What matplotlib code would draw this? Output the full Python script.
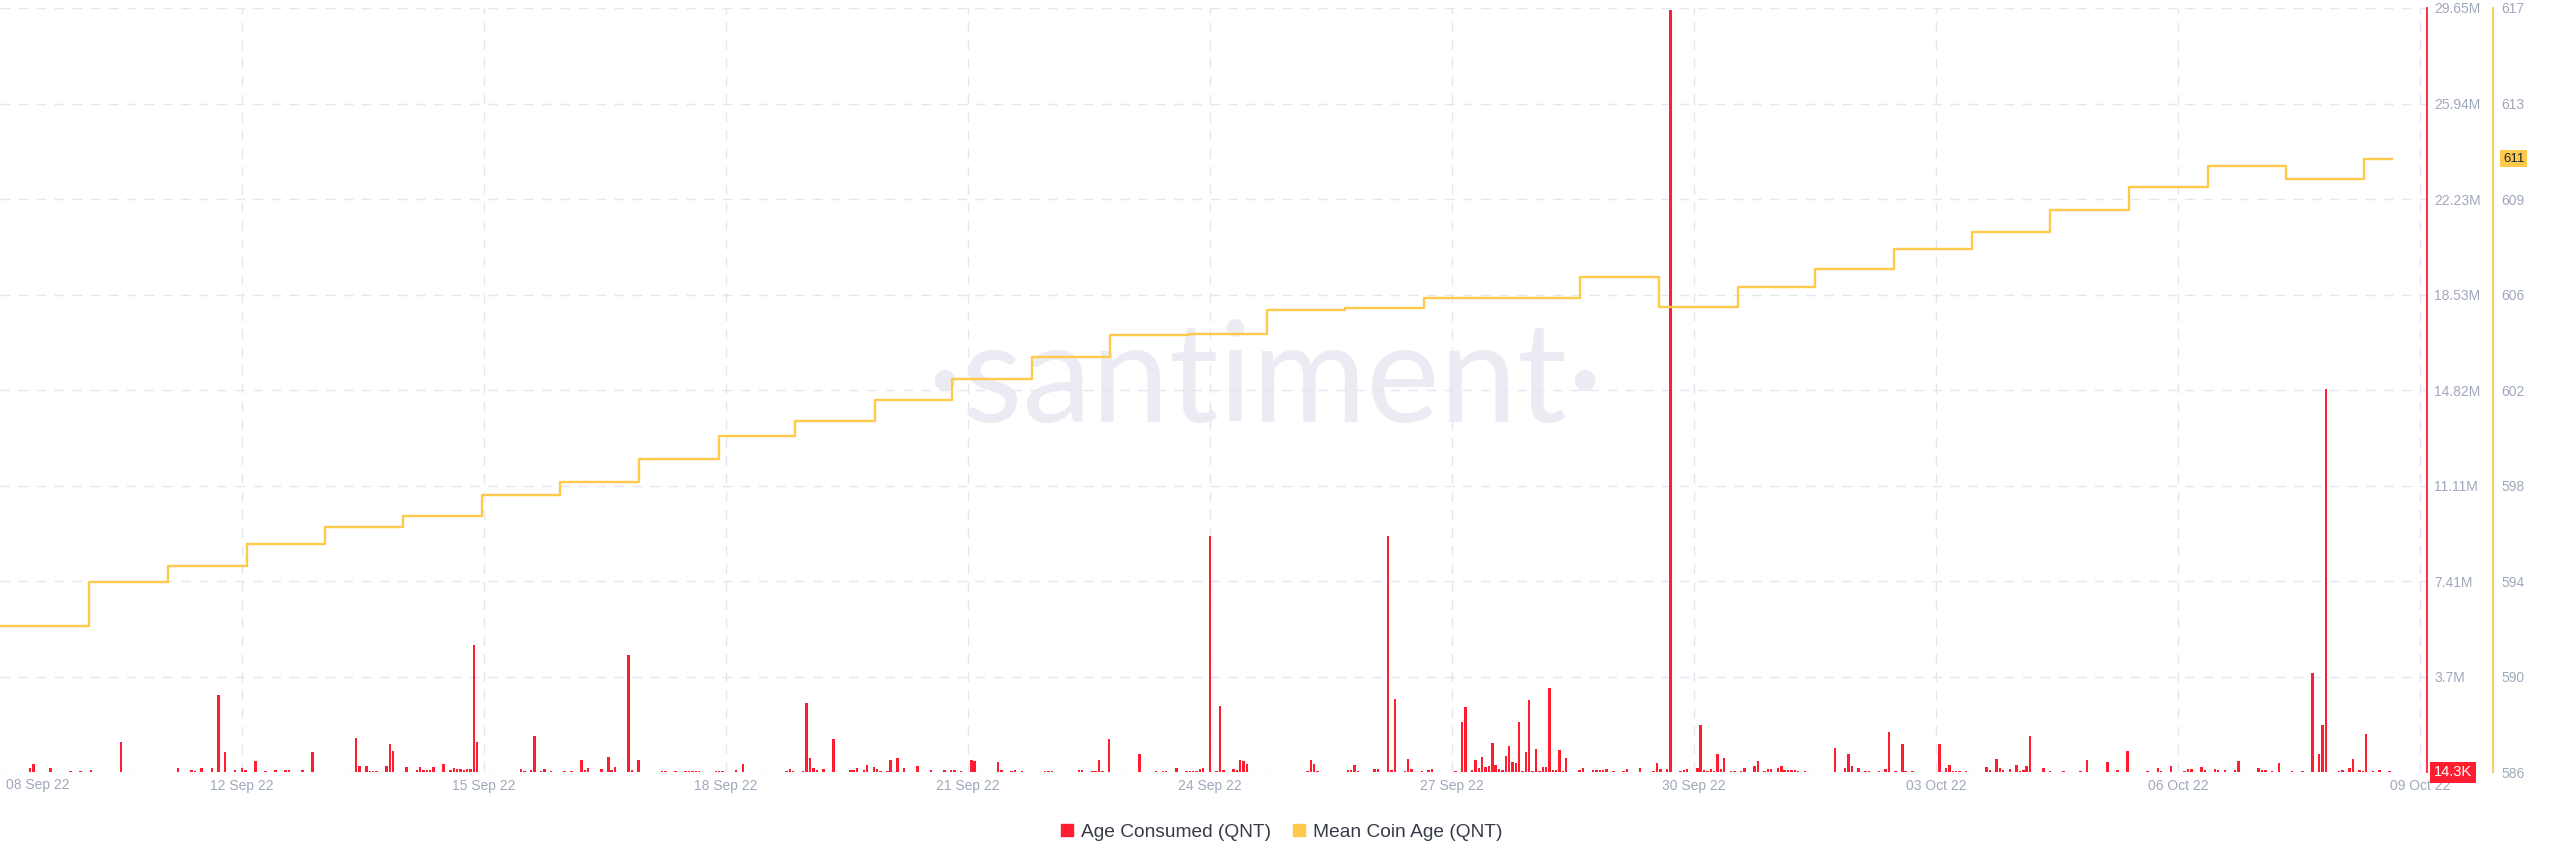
import pandas as pd
import matplotlib.pyplot as plt
from matplotlib.lines import Line2D
from matplotlib.transforms import blended_transform_factory

# start of the plotted range, every series below is in hours from here
start = pd.Timestamp("2022-09-09 00:00")

# Age Consumed (QNT), hourly bars, values in millions
age_hours = [
    1, 9, 10, 12, 13, 15, 21, 24, 27, 34, 36, 39, 53, 57, 58, 60, 63, 65, 67, 70,
    72, 73, 76, 79, 82, 85, 86, 90, 93, 99, 106, 107, 109, 110, 111, 112, 115, 116, 117, 121,
    124, 125, 126, 127, 128, 129, 132, 134, 135, 136, 137, 138, 139, 140, 141, 142, 147, 150, 155, 156,
    158, 159, 161, 162, 164, 168, 170, 173, 174, 175, 179, 181, 182, 183, 187, 188, 190,
    197, 198, 201, 204, 205, 206, 207, 208, 210, 213, 214, 215, 219, 221, 225, 227, 234, 235, 236,
    239, 240, 241, 242, 243, 245, 248, 253, 254, 255, 257, 258, 260, 261, 262, 264, 265, 267, 269, 270,
    271, 273, 277, 281, 283, 284, 286, 289, 290, 297, 298, 301, 302, 304, 309, 311, 312, 313, 314, 321,
    322, 325, 326, 327, 328, 330, 339, 344, 346, 347, 350, 353, 354, 355, 356, 357, 358, 360, 362, 363,
    364, 367, 368, 369, 370, 371, 372,
    384, 386, 389, 390, 391, 392, 396, 397, 401, 402, 403, 404, 409, 410, 413, 414, 415, 418, 419, 420,
    423, 425, 426, 433, 435, 436, 438, 439, 440, 441, 442, 443, 444, 445, 446, 447, 448, 449, 450, 451,
    452, 453, 454, 455, 456, 457, 458, 459, 460, 461, 462, 463, 464, 465, 466, 467, 468, 470, 471, 474,
    475, 476, 477, 478, 480, 483, 484, 488, 492, 493, 494, 496, 497, 500, 501, 502, 505, 506, 507, 508,
    509, 510, 511, 512, 513, 515, 516, 518, 519, 522, 523, 525, 526, 527, 529, 530, 531, 532, 533, 534,
    535, 537, 546, 549, 550, 551, 553, 555, 556, 559, 561, 562, 564, 566, 567, 569,
    571, 572, 573, 577, 579, 580, 581, 582, 583, 585, 591, 592, 594, 595, 596, 598, 600, 601, 602, 603,
    604, 608, 610, 614, 619, 621, 624, 627, 630, 633, 639, 642, 643, 646, 650, 651, 652, 655, 656, 659,
    660, 662, 665, 666, 672, 673, 674, 676, 678, 682, 685, 688, 690, 691, 692, 696, 697, 699, 700, 702,
    703, 704, 706, 708, 711, 720,
]
age_values = [
    0.02, 0.17, 0.32, 0.03, 0.03, 0.17, 0.04, 0.04, 0.09, 0.03, 1.2, 0.03, 0.17, 0.09, 0.06, 0.17, 0.17, 3.0, 0.8, 0.09,
    0.17, 0.09, 0.44, 0.06, 0.09, 0.09, 0.09, 0.09, 0.79, 0.02, 1.33, 0.26, 0.26, 0.05, 0.05, 0.05, 0.26, 1.11, 0.84, 0.2,
    0.09, 0.2, 0.09, 0.09, 0.09, 0.2, 0.34, 0.09, 0.18, 0.13, 0.13, 0.09, 0.13, 0.13, 4.93, 1.18, 0.03, 0.03, 0.15, 0.06,
    0.09, 1.42, 0.06, 0.12, 0.06, 0.06, 0.06, 0.47, 0.09, 0.17, 0.13, 0.6, 0.09, 0.22, 4.55, 0.09, 0.49,
    0.04, 0.04, 0.04, 0.05, 0.05, 0.06, 0.06, 0.06, 0.03, 0.05, 0.06, 0.06, 0.09, 0.34, 0.02, 0.02, 0.06, 0.14, 0.04,
    0.06, 2.7, 0.57, 0.17, 0.09, 0.13, 1.29, 0.09, 0.09, 0.16, 0.09, 0.31, 0.22, 0.13, 0.06, 0.06, 0.5, 0.56, 0.16, 0.03,
    0.03, 0.25, 0.08, 0.09, 0.08, 0.08, 0.05, 0.47, 0.43, 0.4, 0.09, 0.06, 0.09, 0.06, 0.03, 0.04, 0.04, 0.06, 0.03, 0.08,
    0.09, 0.05, 0.05, 0.48, 0.05, 1.28, 0.7, 0.05, 0.05, 0.05, 0.19, 0.05, 0.05, 0.05, 0.05, 0.12, 0.16, 9.18, 0.05, 2.56,
    0.09, 0.12, 0.08, 0.47, 0.44, 0.32, 0.03,
    0.02, 0.02, 0.04, 0.48, 0.34, 0.06, 0.03, 0.03, 0.09, 0.08, 0.3, 0.06, 0.15, 0.15, 9.18, 0.08, 2.86, 0.05, 0.52, 0.14,
    0.04, 0.09, 0.13, 0.05, 1.94, 2.54, 0.09, 0.48, 0.16, 0.6, 0.22, 0.26, 1.14, 0.28, 0.13, 0.08, 0.65, 1.03, 0.39, 0.35,
    1.94, 0.06, 0.79, 2.82, 0.05, 0.93, 0.06, 0.22, 0.22, 3.26, 0.09, 0.09, 0.87, 0.06, 0.56, 0.03, 0.03, 0.09, 0.16, 0.08,
    0.08, 0.08, 0.08, 0.12, 0.05, 0.05, 0.13, 0.17, 0.06, 0.36, 0.12, 0.12, 29.59, 0.05, 0.09, 0.13, 0.17, 1.86, 0.09, 0.05,
    0.13, 0.05, 0.71, 0.13, 0.56, 0.05, 0.05, 0.05, 0.18, 0.25, 0.44, 0.05, 0.13, 0.13, 0.17, 0.26, 0.09, 0.09, 0.09, 0.09,
    0.04, 0.05, 0.94, 0.16, 0.71, 0.25, 0.17, 0.05, 0.05, 0.05, 0.13, 1.57, 0.05, 1.1, 0.05, 0.04,
    0.03, 0.03, 0.03, 1.11, 0.19, 0.3, 0.07, 0.07, 0.07, 0.07, 0.23, 0.09, 0.52, 0.17, 0.09, 0.13, 0.31, 0.05, 0.09, 0.26,
    1.42, 0.19, 0.05, 0.04, 0.05, 0.48, 0.03, 0.39, 0.09, 0.82, 0.04, 0.17, 0.05, 0.27, 0.05, 0.13, 0.13, 0.22, 0.09, 0.13,
    0.09, 0.09, 0.09, 0.45, 0.17, 0.08, 0.08, 0.04, 0.35, 0.04, 0.04, 3.85, 0.71, 1.86, 14.89, 0.05, 0.09, 0.19, 0.54, 0.09,
    0.06, 1.49, 0.06, 0.09, 0.06, 0.0143,
]

# Mean Coin Age (QNT), step changes
mca_hours = [0, 26.6, 50.1, 73.4, 96.7, 120.0, 143.3, 166.6, 190.0, 213.8, 236.6, 260.4, 283.2, 307.0, 330.3, 353.7,
             377.0, 400.3, 423.6, 447.0, 470.0, 493.6, 517.0, 540.0, 563.5, 586.8, 610.0, 633.5, 656.8, 680.0, 703.4, 711.7]
mca_values = [592.2, 594.0, 594.65, 595.54, 596.2, 596.67, 597.52, 598.05, 598.98, 599.9, 600.5, 601.36, 602.21, 603.07,
              603.99, 604.0, 604.98, 605.05, 605.45, 605.47, 606.3, 605.11, 605.9, 606.64, 607.43, 608.15, 609.0, 609.93,
              610.79, 610.27, 611.1, 611.1]

tick_dates = ["2022-09-12", "2022-09-15", "2022-09-18", "2022-09-21", "2022-09-24", "2022-09-27",
              "2022-09-30", "2022-10-03", "2022-10-06", "2022-10-09"]
tick_labels = ["12 Sep 22", "15 Sep 22", "18 Sep 22", "21 Sep 22", "24 Sep 22", "27 Sep 22",
               "30 Sep 22", "03 Oct 22", "06 Oct 22", "09 Oct 22"]
age_ticks = [0, 3.7065, 7.413, 11.1195, 14.826, 18.5325, 22.239, 25.9455, 29.652]
age_tick_labels = ["", "3.7M", "7.41M", "11.11M", "14.82M", "18.53M", "22.23M", "25.94M", "29.65M"]
mca_ticks = [586.3, 590.16, 594.02, 597.88, 601.74, 605.6, 609.46, 613.32, 617.18]
mca_tick_labels = ["586", "590", "594", "598", "602", "606", "609", "613", "617"]

RED = "#ff1d2f"
YELLOW = "#ffc94b"
GRAY = "#9fa8bb"
GRID = "#e3e6ee"

plt.rcParams["font.family"] = ["Liberation Sans", "DejaVu Sans"]

age_times = start + pd.to_timedelta(age_hours, unit="h")
mca_times = start + pd.to_timedelta(mca_hours, unit="h")

fig = plt.figure(figsize=(25.6, 8.67), dpi=100)
ax = fig.add_axes([0, 0.109, 2427 / 2560, 0.8818])
ax2 = ax.twinx()

ax.bar(age_times, age_values, width=0.72 / 24, color=RED, linewidth=0, zorder=2)
ax.set_xlim(start, start + pd.Timedelta(hours=722.1))
ax.set_ylim(0, 29.652)

ax.set_xticks(pd.to_datetime(tick_dates), tick_labels)
ax.tick_params(axis="x", length=0, pad=5, labelsize=10, labelcolor=GRAY)
# twinx moved these to the left, put them back on the right
ax.yaxis.tick_right()
ax.set_yticks(age_ticks, age_tick_labels)
ax.tick_params(axis="y", length=0, pad=5, labelsize=10, labelcolor=GRAY)
ax.grid(True, linestyle=(0, (7, 6)), color=GRID, linewidth=1)
ax.set_axisbelow(True)
for side in ["top", "left", "bottom"]:
    ax.spines[side].set_visible(False)
ax.spines["right"].set_color(RED)
ax.spines["right"].set_linewidth(1.3)

# first date label sits at the left edge
ax.text(6 / 2427, -0.017, "08 Sep 22", transform=ax.transAxes, ha="left", va="center",
        fontsize=10, color=GRAY)

# watermark
ax.text(0.521, 0.51, "\u00b7santiment\u00b7", transform=ax.transAxes, ha="center", va="center",
        fontsize=100, color="#ebebf3", family=["Lato", "DejaVu Sans"], zorder=0)

ax2.step(mca_times, mca_values, where="post", color=YELLOW, linewidth=1.7, zorder=3)
ax2.set_ylim(586.3, 617.18)
ax2.set_yticks(mca_ticks, mca_tick_labels)
ax2.tick_params(axis="y", length=0, pad=6, labelsize=10, labelcolor=GRAY)
for side in ["top", "left", "bottom"]:
    ax2.spines[side].set_visible(False)
ax2.spines["right"].set_position(("outward", 66 * 0.72))
ax2.spines["right"].set_color(YELLOW)
ax2.spines["right"].set_linewidth(1.3)

# last value badges
tr_age = blended_transform_factory(fig.transFigure, ax.transData)
fig.text(2434 / 2560, 0, "14.3K", transform=tr_age, ha="left", va="center", fontsize=10.5,
         color="white", bbox=dict(boxstyle="square,pad=0.25", fc=RED, ec="none"))
tr_mca = blended_transform_factory(fig.transFigure, ax2.transData)
fig.text(2503 / 2560, 611.1, "611", transform=tr_mca, ha="left", va="center", fontsize=9.5,
         color="#1f2430", bbox=dict(boxstyle="square,pad=0.2", fc=YELLOW, ec="none"))

handles = [
    Line2D([], [], marker="s", linestyle="", color=RED, markersize=8, label="Age Consumed (QNT)"),
    Line2D([], [], marker="s", linestyle="", color=YELLOW, markersize=8, label="Mean Coin Age (QNT)"),
]
leg = fig.legend(handles=handles, loc="center", bbox_to_anchor=(0.5, 0.04), ncol=2, frameon=False,
                 fontsize=13.8, handletextpad=0.2, columnspacing=1.0, handlelength=1.0)
for t in leg.get_texts():
    t.set_color("#363b47")

fig.savefig("out.png", dpi=100)
